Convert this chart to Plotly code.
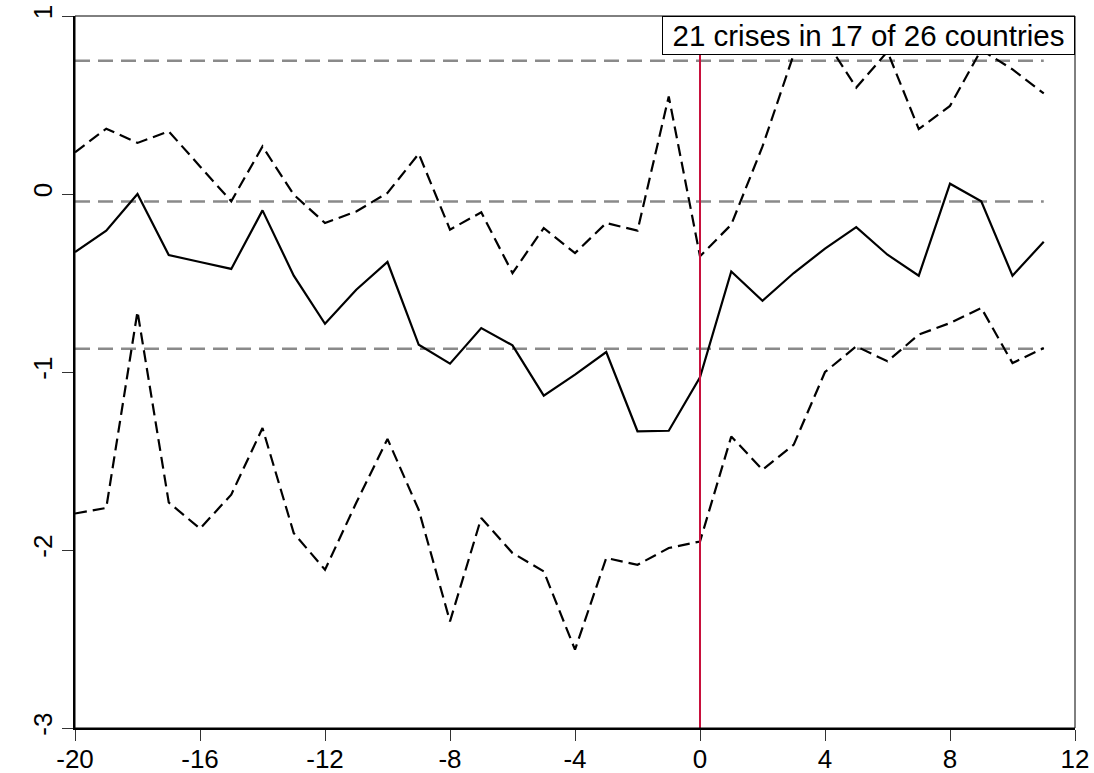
import plotly.graph_objects as go

# Event time (years relative to crisis)
years = list(range(-20, 12))

# Central estimate (solid line)
mid = [-0.326, -0.206, 0.0, -0.343, -0.382, -0.421, -0.092, -0.459, -0.729, -0.538,
       -0.382, -0.847, -0.953, -0.753, -0.850, -1.133, -1.015, -0.888, -1.333, -1.330,
       -1.030, -0.435, -0.600, -0.444, -0.307, -0.186, -0.341, -0.459, 0.058, -0.041,
       -0.459, -0.268]

# Upper band (dashed)
upper = [0.234, 0.367, 0.287, 0.352, 0.155, -0.041, 0.267, -0.004, -0.163, -0.098,
         0.006, 0.226, -0.200, -0.103, -0.444, -0.191, -0.332, -0.163, -0.206, 0.548,
         -0.350, -0.172, 0.267, 0.785, 0.870, 0.598, 0.800, 0.365, 0.495, 0.810,
         0.700, 0.565]

# Lower band (dashed)
lower = [-1.795, -1.764, -0.660, -1.733, -1.880, -1.689, -1.315, -1.905, -2.111, -1.735,
         -1.376, -1.775, -2.401, -1.820, -2.017, -2.120, -2.560, -2.045, -2.083, -1.989,
         -1.952, -1.362, -1.549, -1.408, -1.000, -0.856, -0.940, -0.790, -0.725, -0.640,
         -0.950, -0.865]

# Reference (average) levels drawn as grey dashed lines
ref_levels = [0.749, -0.042, -0.869]

x_ticks = [-20, -16, -12, -8, -4, 0, 4, 8, 12]
x_ticklabels = ["-20", "-16", "-12", "-8", "-4", "0", "4", "8", "12"]
y_ticks = [-3, -2, -1, 0, 1]
y_ticklabels = ["-3", "-2", "-1", "0", "1"]

annotation_text = "21 crises in 17 of 26 countries"
crisis_year = 0

FONT = "Liberation Sans, Arial, sans-serif"

fig = go.Figure()

for lvl in ref_levels:
    fig.add_trace(go.Scatter(
        x=[years[0], years[-1]], y=[lvl, lvl], mode="lines",
        line=dict(color="#8a8a8a", width=2.5, dash="15px,8px"),
        hoverinfo="skip", showlegend=False))

fig.add_trace(go.Scatter(x=years, y=upper, mode="lines",
                         line=dict(color="black", width=2.2, dash="12px,6px"),
                         showlegend=False))
fig.add_trace(go.Scatter(x=years, y=lower, mode="lines",
                         line=dict(color="black", width=2.2, dash="12px,6px"),
                         showlegend=False))
fig.add_trace(go.Scatter(x=years, y=mid, mode="lines",
                         line=dict(color="black", width=2.2),
                         showlegend=False))

# vertical crisis line
fig.add_shape(type="line", xref="x", yref="paper", x0=crisis_year, x1=crisis_year,
              y0=0, y1=1, line=dict(color="#c8103c", width=2), layer="above")

# thin frame (top/right)
fig.add_shape(type="rect", xref="paper", yref="paper", x0=0, x1=1, y0=0, y1=1,
              line=dict(color="black", width=1), layer="above")

fig.add_annotation(text=annotation_text, xref="paper", yref="paper", x=1, y=1,
                   xanchor="right", yanchor="top", showarrow=False,
                   font=dict(family=FONT, size=29.5, color="black"),
                   width=409, height=35, align="center", valign="middle",
                   bgcolor="white", bordercolor="black", borderwidth=1, borderpad=1)

fig.update_layout(
    width=1094, height=773,
    margin=dict(l=75, r=19, t=16, b=45),
    paper_bgcolor="white", plot_bgcolor="white",
    font=dict(family=FONT, size=26, color="black"),
    showlegend=False,
)
fig.update_xaxes(range=[-20, 12], tickvals=x_ticks, ticktext=x_ticklabels,
                 showgrid=False, zeroline=False, showline=True, linecolor="black",
                 linewidth=2, ticks="outside", ticklen=11, tickwidth=1, tickcolor="#333",
                 tickfont=dict(family=FONT, size=26), automargin=False,
                 ticklabelstandoff=-4)
fig.update_yaxes(range=[-3, 1], tickvals=y_ticks, ticktext=y_ticklabels,
                 showgrid=False, zeroline=False, showline=True, linecolor="black",
                 linewidth=2, ticks="outside", ticklen=11, tickwidth=1, tickcolor="#333",
                 tickangle=-90, tickfont=dict(family=FONT, size=26), automargin=False)

# remove the default page margin so the figure fills the window exactly
fig.write_html("out.html", config={"displayModeBar": False},
               post_script="document.body.style.margin='0px';")
